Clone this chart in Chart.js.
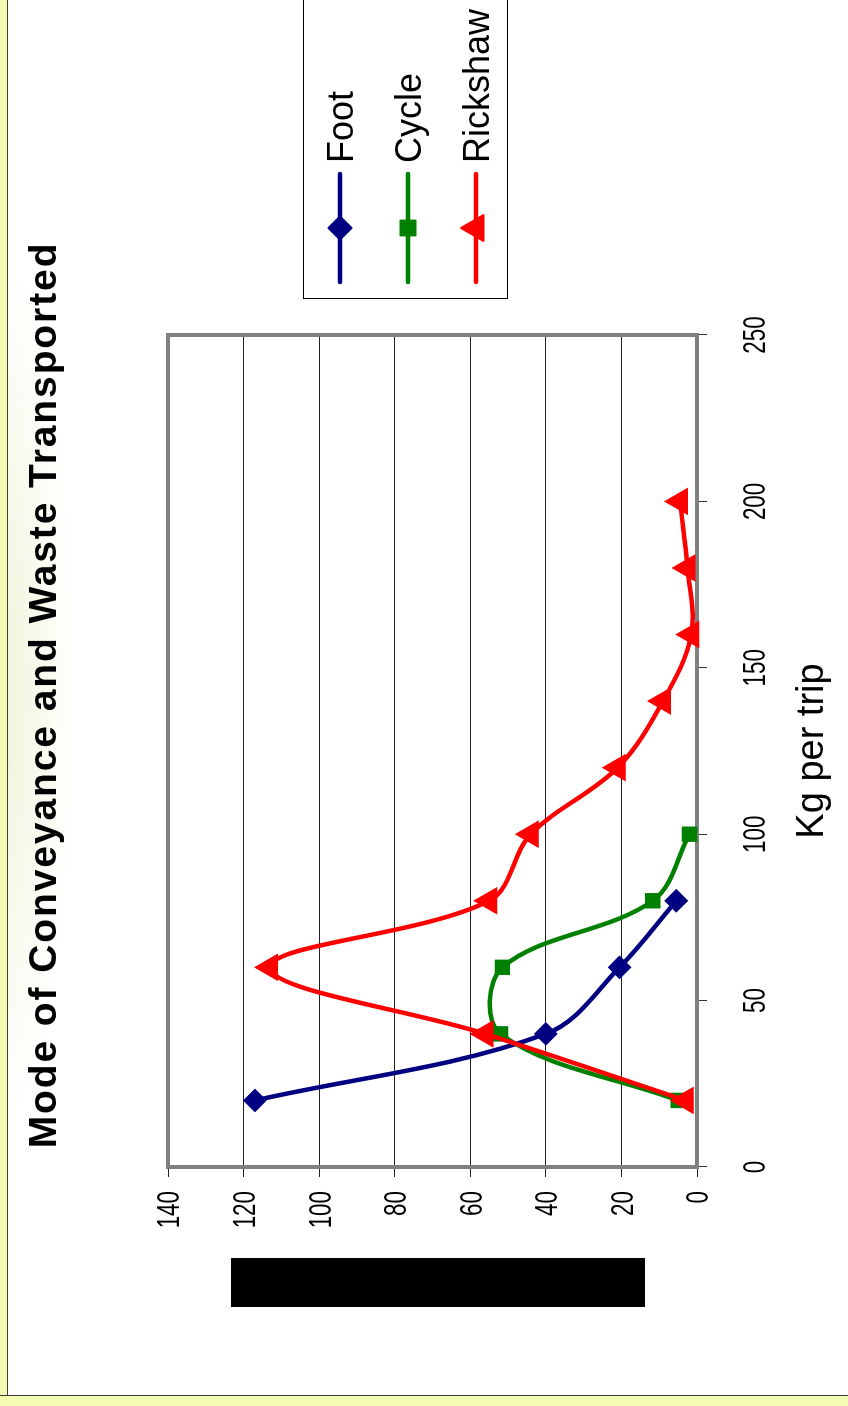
<!DOCTYPE html>
<html>
<head>
<meta charset="utf-8">
<title>Mode of Conveyance and Waste Transported</title>
<script src="https://cdn.jsdelivr.net/npm/chart.js@4.4.1/dist/chart.umd.min.js"></script>
<style>
  html, body { margin: 0; padding: 0; }
  body { width: 848px; height: 1406px; position: relative; overflow: hidden; background: #ffffff; }
  .strip { position: absolute; background: #f4fcb3; }
  #stripLeft { left: 0; top: 0; width: 7px; height: 1406px; border-right: 1px solid #3a3a3a; }
  #stripBottom { left: 0; top: 1395px; width: 848px; height: 11px; border-top: 1px solid #3a3a3a; box-sizing: border-box; }
  #tint { position: absolute; left: -40px; top: 260px; width: 110px; height: 860px;
          background: radial-gradient(ellipse at 30% 50%, rgba(196,214,120,0.30) 0%, rgba(214,226,150,0.16) 45%, rgba(255,255,255,0) 75%); }
  #turn { position: absolute; left: 0; top: 0; width: 1406px; height: 848px;
          transform-origin: 0 0; transform: translate(0px, 1406px) rotate(-90deg); }
  canvas { display: block; }
</style>
</head>
<body>
<div id="tint"></div>
<div class="strip" id="stripLeft"></div>
<div class="strip" id="stripBottom"></div>
<div id="turn"><canvas id="chart" width="1406" height="848"></canvas></div>
<script>
// Load in kg per trip (x) and number of trips for each mode of conveyance (y)
const kgPerTrip = [20, 40, 60, 80, 100, 120, 140, 160, 180, 200];
const footTrips = [117, 40, 20.5, 5.5];
const cycleTrips = [5, 52, 51.5, 11.7, 2];
const rickshawTrips = [3, 56, 113, 55, 44, 21, 9, 1.5, 2.5, 4.5];
const kgTicks = [0, 50, 100, 150, 200, 250];
const tripTicks = [0, 20, 40, 60, 80, 100, 120, 140];

const seriesNames = ['Foot', 'Cycle', 'Rickshaw'];
const seriesColors = ['#000080', '#008000', '#ff0000'];
const seriesMarkers = ['rectRot', 'rect', 'triangle'];
const seriesRadius = [10.5, 9.5, 14];
const chartTitle = 'Mode of Conveyance and Waste Transported';
const xTitle = 'Kg per trip';

const pairs = (vals) => vals.map((v, i) => ({ x: kgPerTrip[i], y: v }));
const seriesData = [footTrips, cycleTrips, rickshawTrips];

const regular = '"Liberation Sans", Arial, sans-serif';
const tickFont = '32px ' + regular;
const tickSqueeze = 0.7;   // narrow tick numerals

function drawMarker(ctx, style, x, y, r, color) {
  ctx.save();
  ctx.fillStyle = color;
  ctx.strokeStyle = color;
  ctx.lineWidth = 2;
  ctx.lineJoin = 'round';
  Chart.helpers.drawPoint(ctx, { pointStyle: style, radius: r, rotation: 0, borderWidth: 2 }, x, y);
  ctx.restore();
}

function squeezedText(ctx, text, x, y, align) {
  ctx.save();
  ctx.translate(x, y);
  ctx.scale(tickSqueeze, 1);
  ctx.textAlign = align;
  ctx.fillText(text, 0, 0);
  ctx.restore();
}

const decor = {
  id: 'decor',
  beforeDatasetsDraw(chart) {
    // grey frame around the plot area
    const { ctx, chartArea: a } = chart;
    ctx.save();
    ctx.strokeStyle = '#808080';
    ctx.lineWidth = 4;
    ctx.strokeRect(a.left, a.top, a.right - a.left, a.bottom - a.top);
    ctx.restore();
  },
  afterDraw(chart) {
    const { ctx } = chart;
    ctx.save();

    // tick numerals for both axes, placed by the scales
    ctx.fillStyle = '#000';
    ctx.font = tickFont;
    ctx.textBaseline = 'alphabetic';
    const xs = chart.scales.x, ys = chart.scales.y;
    kgTicks.forEach(v => squeezedText(ctx, String(v), xs.getPixelForValue(v), 765, 'center'));
    tripTicks.forEach(v => squeezedText(ctx, String(v), 215, ys.getPixelForValue(v) + 11.4, 'right'));

    // chart title, bold and spaced out
    ctx.font = 'bold 39px ' + regular;
    if ('letterSpacing' in ctx) ctx.letterSpacing = '1.9px';
    ctx.textAlign = 'left';
    const tw = ctx.measureText(chartTitle).width;
    ctx.fillText(chartTitle, 711 - tw / 2, 56);
    if ('letterSpacing' in ctx) ctx.letterSpacing = '0px';

    // solid block left of the value axis
    ctx.fillRect(99, 231, 49, 414);

    // legend box
    ctx.fillStyle = '#fff';
    ctx.fillRect(1108, 304, 320, 203);
    ctx.strokeStyle = '#000';
    ctx.lineWidth = 1;
    ctx.strokeRect(1107.5, 303.5, 320, 204);

    const rows = [340, 408, 476];
    ctx.font = '36px ' + regular;
    seriesNames.forEach((name, i) => {
      const y = rows[i];
      ctx.strokeStyle = seriesColors[i];
      ctx.lineWidth = 4.5;
      ctx.lineCap = 'round';
      ctx.beginPath();
      ctx.moveTo(1124, y);
      ctx.lineTo(1232, y);
      ctx.stroke();
      drawMarker(ctx, seriesMarkers[i], 1178, y, seriesRadius[i] + 1, seriesColors[i]);
      ctx.fillStyle = '#000';
      ctx.fillText(name, 1243, y + 12.5);
    });
    ctx.restore();
  }
};

new Chart(document.getElementById('chart'), {
  type: 'line',
  data: {
    datasets: seriesNames.map((name, i) => ({
      label: name,
      data: pairs(seriesData[i]),
      borderColor: seriesColors[i],
      backgroundColor: seriesColors[i],
      borderWidth: 4.5,
      borderJoinStyle: 'round',
      borderCapStyle: 'round',
      tension: 0.35,
      fill: false,
      pointStyle: seriesMarkers[i],
      pointRadius: seriesRadius[i],
      pointBorderWidth: 2,
      pointBackgroundColor: seriesColors[i],
      pointBorderColor: seriesColors[i],
      clip: false,
      order: 2 - i
    }))
  },
  options: {
    responsive: false,
    animation: false,
    events: [],
    layout: { padding: { left: 0, right: 335, top: 168, bottom: 0 } },
    plugins: {
      legend: { display: false },
      title: { display: false },
      tooltip: { enabled: false }
    },
    scales: {
      x: {
        type: 'linear',
        min: kgTicks[0],
        max: kgTicks[kgTicks.length - 1],
        afterBuildTicks: (scale) => { scale.ticks = kgTicks.map(v => ({ value: v })); },
        afterFit: (scale) => { scale.height = 151; },
        border: { display: false },
        grid: { drawOnChartArea: false, drawTicks: true, tickLength: 10, color: '#333', lineWidth: 1 },
        ticks: { display: false },
        title: { display: true, text: xTitle, color: '#000', font: { family: regular, size: 38, lineHeight: 1.2 }, padding: { top: 0, bottom: 13 } }
      },
      y: {
        type: 'linear',
        min: tripTicks[0],
        max: tripTicks[tripTicks.length - 1],
        afterBuildTicks: (scale) => { scale.ticks = tripTicks.map(v => ({ value: v })); },
        afterFit: (scale) => { scale.width = 239; },
        border: { display: false },
        grid: { color: '#222', lineWidth: 1, drawTicks: true, tickLength: 10 },
        ticks: { display: false }
      }
    }
  },
  plugins: [decor]
});
</script>
</body>
</html>
